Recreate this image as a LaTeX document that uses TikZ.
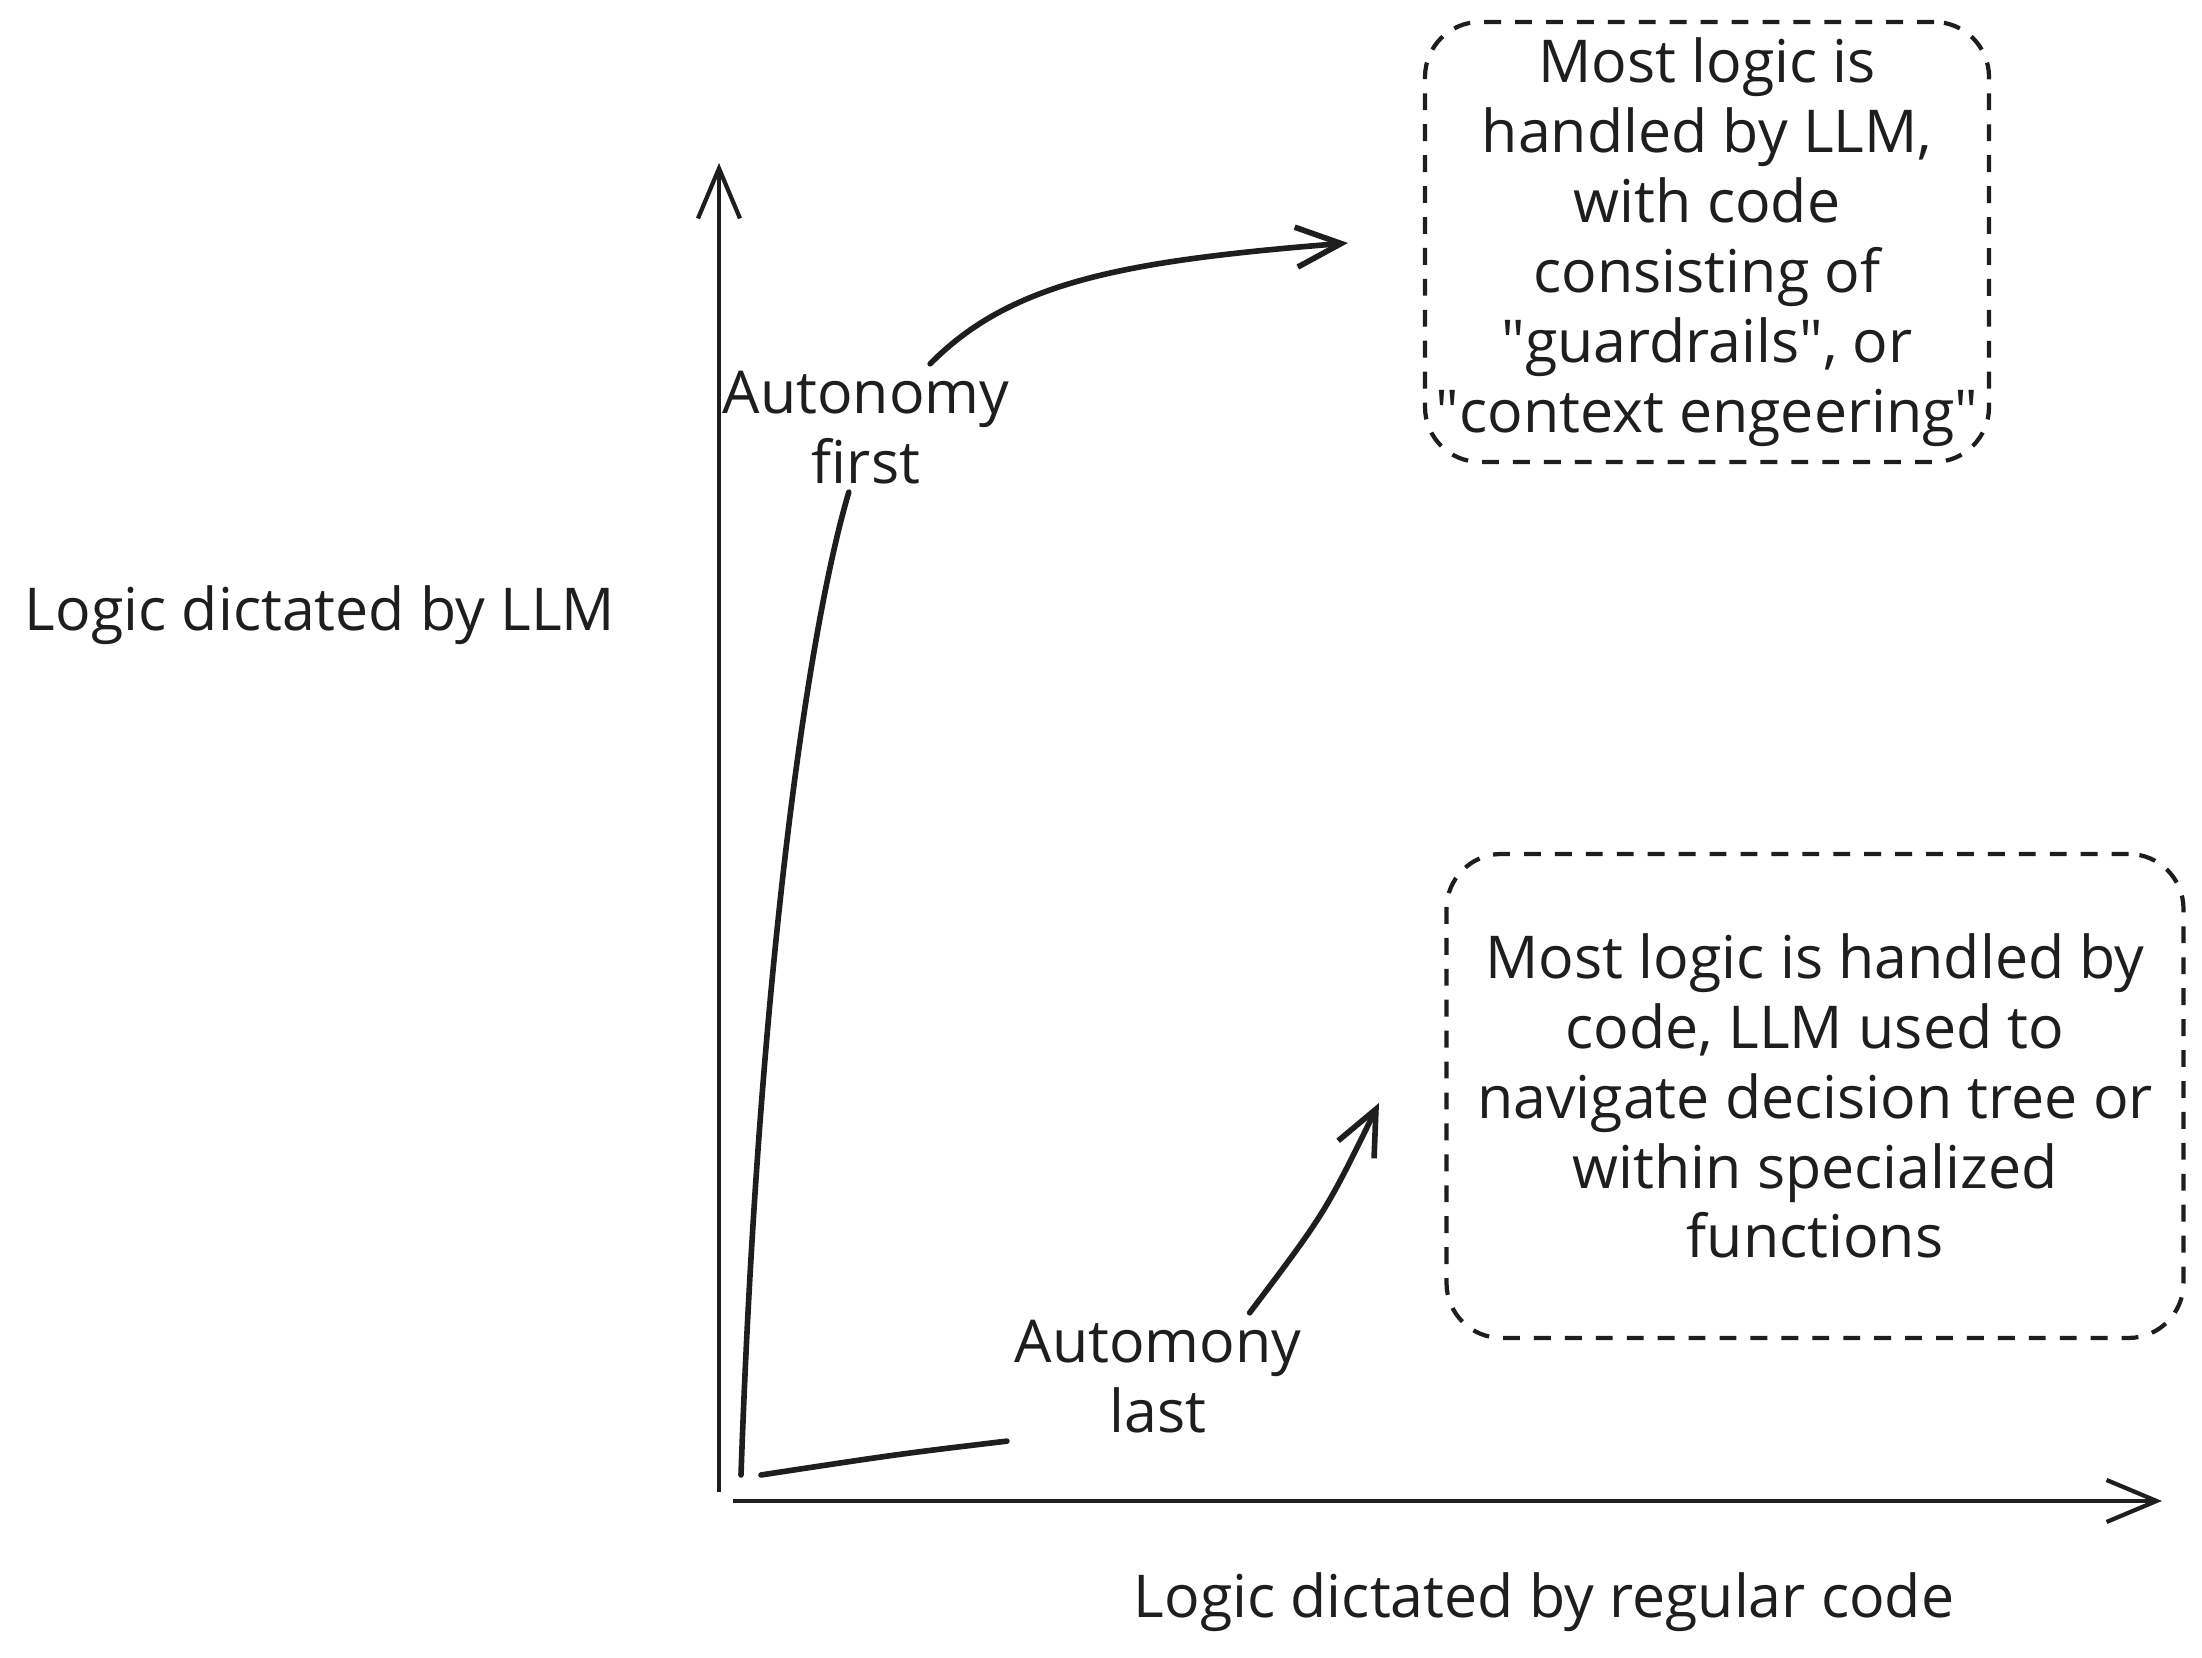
\documentclass[tikz,border=0pt]{standalone}
\usepackage{fontspec}
\setmainfont{Open Sans}
\usetikzlibrary{arrows.meta}
\definecolor{ink}{HTML}{1E1E1E}

\begin{document}
\begin{tikzpicture}[
  every node/.style={text=ink,font=\fontsize{16.8}{19.9}\selectfont,inner sep=2pt},
  axis/.style={draw=ink,line width=1.2pt,-{Straight Barb[length=5mm,width=4.2mm]}},
  flow/.style={draw=ink,line width=1.6pt,line cap=round},
  tip/.style={-{Straight Barb[length=4.5mm,width=4mm]}},
  note/.style={draw=ink,dash pattern=on 4.8pt off 4pt,line width=1.2pt,
    rounded corners=0.55cm,align=center}]
\useasboundingbox (0,0) rectangle (22.02,16.58);

\coordinate (yfoot) at (7.19,1.66);
\coordinate (ytip) at (7.19,14.95);
\coordinate (xfoot) at (7.33,1.57);
\coordinate (xtip) at (21.62,1.57);
\draw[axis] (yfoot) -- (ytip);
\draw[axis] (xfoot) -- (xtip);

\node (ylab) at (3.20,10.43) {Logic dictated by LLM};
\node (xlab) at (15.44,0.56) {Logic dictated by regular code};

\node[align=center] (afirst) at (8.66,12.30) {Autonomy\\first};
\node[align=center] (alast) at (11.58,2.81) {Automony\\last};

\node[note,minimum width=5.64cm,minimum height=4.40cm] (llmbox) at (17.07,14.16)
  {Most logic is\\handled by LLM,\\with code\\consisting of\\\textquotedbl guardrails\textquotedbl, or\\\textquotedbl context engeering\textquotedbl};
\node[note,minimum width=7.37cm,minimum height=4.84cm] (codebox) at (18.15,5.62)
  {Most logic is handled by\\code, LLM used to\\navigate decision tree or\\within specialized\\functions};

\coordinate (o1) at (7.41,1.83);
\coordinate (e1) at (13.48,14.15);
\coordinate (o2) at (7.61,1.83);
\coordinate (e2) at (13.79,5.55);

\draw[flow] (o1) .. controls (7.58,6.74) and (8.07,10.25) .. (afirst.255);
\draw[flow,tip] (afirst.45) .. controls (10.11,13.76) and (11.23,13.97) .. (e1);
\draw[flow] (o2) .. controls (8.99,2.04) .. (alast.south west);
\draw[flow,tip] (alast.35) .. controls (13.25,4.45) .. (e2);

\end{tikzpicture}
\end{document}
